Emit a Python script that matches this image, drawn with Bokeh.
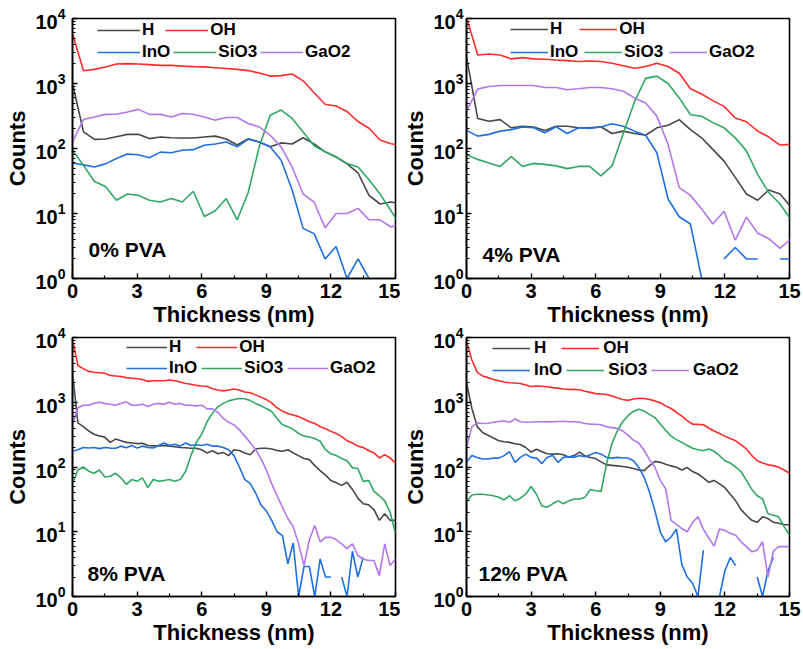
import numpy as np
from bokeh.plotting import figure
from bokeh.layouts import column, row
from bokeh.models import Legend, LegendItem, Label, Range1d, FixedTicker
from bokeh.embed import file_html
from bokeh.resources import INLINE

nan = float("nan")

# ---------------- depth grids (nm) ----------------
x_0pva = [0.00, 0.51, 1.02, 1.53, 2.04, 2.55, 3.06, 3.57, 4.08, 4.59, 5.10,
          5.61, 6.12, 6.63, 7.14, 7.65, 8.16, 8.67, 9.18, 9.69, 10.20, 10.71,
          11.22, 11.73, 12.24, 12.75, 13.26, 13.77, 14.28, 14.79, 15.30]
x_4pva = [0.00, 0.52, 1.04, 1.56, 2.08, 2.60, 3.12, 3.64, 4.16, 4.68, 5.20,
          5.72, 6.24, 6.76, 7.28, 7.80, 8.32, 8.84, 9.36, 9.88, 10.40, 10.92,
          11.44, 11.96, 12.48, 13.00, 13.52, 14.04, 14.56, 15.08]
x_fine = [0.00, 0.25, 0.50, 0.75, 1.00, 1.25, 1.50, 1.75, 2.00, 2.25, 2.50,
          2.75, 3.00, 3.25, 3.50, 3.75, 4.00, 4.25, 4.50, 4.75, 5.00, 5.25,
          5.50, 5.75, 6.00, 6.25, 6.50, 6.75, 7.00, 7.25, 7.50, 7.75, 8.00,
          8.25, 8.50, 8.75, 9.00, 9.25, 9.50, 9.75, 10.00, 10.25, 10.50, 10.75,
          11.00, 11.25, 11.50, 11.75, 12.00, 12.25, 12.50, 12.75, 13.00, 13.25,
          13.50, 13.75, 14.00, 14.25, 14.50, 14.75, 15.00]

# ---------------- 0% PVA ----------------
h_0 = [1000, 180, 138, 140, 152, 165, 165, 142, 150, 146, 145, 145, 150, 155, 140,
       113, 141, 126, 106, 122, 117, 146, 118, 89, 74, 58, 42, 19, 14, 15, 14]
oh_0 = [5900, 1570, 1650, 1800, 2000, 2020, 2000, 1950, 1900, 1900, 1850, 1820,
        1800, 1750, 1700, 1650, 1580, 1450, 1300, 1320, 1400, 1100, 720, 480, 450,
        370, 260, 205, 135, 118, 112]
ino_0 = [60, 56, 52, 58, 70, 82, 80, 72, 88, 86, 94, 96, 112, 117, 126, 106, 139,
         126, 106, 66, 23, 5.9, 4.9, 2.0, 3.1, 1.0, 2.0, 1.0, nan, nan, nan]
sio3_0 = [94, 55, 31, 26, 16, 20, 19, 16, 15, 17, 15, 22, 9, 11, 17, 8, 21, 106,
          325, 390, 290, 180, 110, 89, 74, 59, 52, 33, 20, 11, 6]
gao2_0 = [126, 280, 305, 335, 336, 365, 400, 335, 335, 305, 345, 336, 305, 273,
          300, 300, 242, 215, 160, 106, 52, 20, 15, 6, 10, 10, 12, 8, 8, 6.2, 7]

# ---------------- 4% PVA ----------------
h_4 = [2600, 289, 262, 278, 208, 220, 214, 189, 220, 220, 208, 208, 216, 170, 185,
       170, 160, 208, 228, 278, 195, 146, 97, 64, 36, 20, 16, 23, 20, 12.5]
oh_4 = [10500, 2750, 2850, 2750, 2390, 2500, 2390, 2360, 2300, 2250, 2180, 2220,
        2180, 2050, 1880, 1720, 1830, 2050, 1830, 1440, 830, 690, 545, 445, 295,
        258, 185, 150, 113, 116]
ino_4 = [190, 155, 165, 185, 195, 214, 208, 175, 216, 170, 208, 204, 214, 240, 220,
         185, 160, 86, 16.7, 8.9, 6.9, 1.0, nan, 2, 3, 2, 2, nan, 2, 2]
sio3_4 = [80, 68, 60, 53, 75, 53, 59, 57, 54, 49, 53, 53, 38, 54, 170, 520, 1200,
          1300, 1000, 600, 330, 314, 250, 208, 146, 92, 40, 21, 14, 8]
gao2_4 = [374, 820, 900, 930, 930, 930, 930, 870, 870, 800, 830, 870, 870, 830,
          760, 600, 500, 315, 116, 25, 19, 11.7, 6.9, 10.8, 3.9, 8.8, 5.0, 4.1,
          2.9, 4.1]

# ---------------- 8% PVA ----------------
h_8 = [2800, 480, 420, 360, 320, 300, 290, 240, 270, 255, 240, 235, 230, 232, 215,
       212, 212, 215, 210, 205, 200, 198, 195, 195, 185, 165, 178, 160, 168, 150,
       185, 180, 165, 155, 190, 195, 195, 190, 180, 175, 185, 165, 150, 135, 130,
       105, 88, 75, 62, 57, 52, 58, 45, 33, 27, 26, 22, 15, 19, 15, 15]
oh_8 = [9500, 3690, 3300, 3000, 2900, 2850, 2800, 2600, 2550, 2500, 2400, 2350,
        2300, 2250, 2100, 2150, 2150, 2150, 2200, 2150, 2050, 1950, 1900, 1820,
        1780, 1750, 1620, 1550, 1500, 1550, 1600, 1550, 1440, 1400, 1300, 1200,
        1100, 980, 820, 730, 670, 635, 600, 550, 500, 470, 420, 390, 355, 330, 295,
        255, 235, 210, 200, 180, 165, 138, 155, 138, 115]
ino_8 = [175, 185, 200, 196, 200, 192, 200, 196, 195, 210, 198, 215, 196, 210, 200,
         196, 215, 235, 215, 225, 210, 235, 215, 220, 215, 225, 210, 210, 200, 185,
         150, 100, 64, 56, 40, 26, 21, 15, 10, 8.7, 3.2, 6.7, 1.0, 2.9, 2.9, 1.0,
         3.8, 2.0, 2.0, nan, 2.0, 1.0, 5.0, 2.0, 4.0, nan, nan, nan, nan, nan, nan]
sio3_8 = [55, 90, 100, 86, 80, 90, 70, 72, 80, 68, 54, 64, 60, 68, 48, 64, 60, 62,
          64, 60, 64, 85, 150, 240, 320, 500, 680, 850, 960, 1050, 1100, 1140, 1130,
          1060, 960, 880, 800, 720, 560, 450, 420, 380, 330, 300, 290, 275, 250,
          185, 160, 150, 135, 125, 97, 95, 60, 62, 42, 36, 30, 20, 9.5]
gao2_8 = [450, 820, 900, 900, 960, 1000, 960, 930, 900, 960, 1015, 900, 900, 930,
          860, 930, 960, 930, 1000, 930, 960, 900, 900, 880, 900, 790, 790, 700,
          565, 490, 447, 375, 300, 240, 185, 135, 90, 55, 36, 24, 16, 12, 6.5, 3.0,
          7.5, 12.5, 7.0, 8.2, 8.2, 7.5, 6.5, 5.5, 6.5, 4.3, 3.8, 3.6, 3.6, 2.1,
          6.5, 3.0, 3.8]

# ---------------- 12% PVA ----------------
h_12 = [2000, 800, 420, 340, 310, 280, 255, 245, 240, 228, 222, 200, 170, 188, 172,
        160, 158, 160, 155, 142, 150, 170, 148, 140, 135, 120, 108, 106, 104, 102,
        99, 95, 90, 88, 105, 122, 118, 110, 104, 99, 90, 98, 85, 78, 68, 58, 62,
        55, 48, 38, 30, 22, 18, 15, 14, 17, 16, 14, 13.5, 12.8, 12.8]
oh_12 = [8700, 4500, 2900, 2550, 2400, 2250, 2150, 2050, 2000, 1980, 1950, 1850,
         1750, 1780, 1770, 1740, 1680, 1650, 1600, 1580, 1580, 1560, 1480, 1420,
         1360, 1340, 1320, 1250, 1170, 1100, 1070, 1120, 1150, 1140, 1100, 1050,
         980, 880, 800, 700, 610, 520, 457, 455, 450, 400, 360, 330, 300, 275, 254,
         220, 190, 150, 125, 115, 108, 105, 99, 90, 80]
ino_12 = [118, 150, 140, 133, 133, 137, 137, 150, 172, 118, 141, 158, 141, 137, 113,
          141, 150, 118, 141, 144, 141, 150, 144, 155, 168, 158, 141, 137, 141, 138,
          138, 125, 99, 69, 41, 21, 9.9, 7.0, 8.3, 11, 3.1, 2.0, 1.6, 1.0, 5.2, nan,
          nan, 1.0, 2.5, 4.0, 3.0, nan, nan, nan, 2.0, 1.0, 2.5, 4.0, nan, nan, nan]
sio3_12 = [29, 37, 38, 38, 37, 36, 34, 31, 36, 30, 33, 38, 50, 38, 25, 24, 27, 30,
           27, 30, 32, 32, 34, 45, 43, 42, 110, 230, 360, 500, 620, 720, 780, 730,
           650, 580, 460, 370, 300, 265, 240, 215, 195, 185, 178, 190, 175, 150,
           125, 115, 100, 85, 62, 45, 36, 32, 19, 18, 17, 12, 9]
gao2_12 = [200, 420, 480, 470, 475, 490, 505, 514, 490, 550, 500, 490, 495, 500,
           500, 498, 500, 505, 510, 500, 505, 490, 470, 460, 457, 450, 420, 405, 395,
           360, 310, 260, 235, 180, 130, 99, 62, 46, 15, 13, 11.2, 10, 14, 17, 11,
           8, 6, 11, 10.5, 9.5, 8.8, 7, 5.9, 4.9, 5.2, 7, 2.0, 5.0, 5.9, 5.9, 5.9]

species = ["H", "OH", "InO", "SiO3", "GaO2"]
colors = {"H": "#474747", "OH": "#ff2b2b", "InO": "#1f6fe0",
          "SiO3": "#2fa862", "GaO2": "#b277ea"}

FONT = "Liberation Sans"


def make_panel(x, data, tag, width, height, borders, leg, tag_pos, y_standoff,
               transparent=False):
    left, right, top, bottom = borders
    p = figure(width=width, height=height, y_axis_type="log",
               x_range=Range1d(0, 15), y_range=Range1d(1, 1e4),
               output_backend="svg", toolbar_location=None,
               min_border_left=left, min_border_right=right,
               min_border_top=top, min_border_bottom=bottom,
               background_fill_color="white", border_fill_color="white")
    if transparent:
        p.border_fill_alpha = 0.0
    p.xgrid.visible = False
    p.ygrid.visible = False
    p.outline_line_color = "black"
    p.outline_line_width = 1.6
    p.outline_line_alpha = 1.0

    xs = np.array(x, dtype=float)
    rends = {}
    for name in species:
        ys = np.array(data[name], dtype=float)
        rends[name] = p.line(xs, ys, line_color=colors[name], line_width=1.6)

    p.xaxis.ticker = FixedTicker(ticks=[0, 3, 6, 9, 12, 15],
                                 minor_ticks=[1.5, 4.5, 7.5, 10.5, 13.5])
    minor_y = [m * 10 ** d for d in range(4) for m in range(2, 10)]
    p.yaxis.ticker = FixedTicker(ticks=[1, 10, 100, 1000, 10000], minor_ticks=minor_y)
    p.xaxis.axis_label = "Thickness (nm)"
    p.yaxis.axis_label = "Counts"

    for ax in (p.xaxis[0], p.yaxis[0]):
        ax.major_tick_in = 5
        ax.major_tick_out = 0
        ax.minor_tick_in = 3
        ax.minor_tick_out = 0
        ax.axis_line_width = 1.6
        ax.axis_line_color = "black"
        ax.major_tick_line_width = 1.4
        ax.minor_tick_line_width = 1.2
        ax.major_label_text_font = FONT
        ax.major_label_text_font_style = "bold"
        ax.major_label_text_font_size = "20px"
        ax.major_label_text_color = "black"
        ax.axis_label_text_font = FONT
        ax.axis_label_text_font_style = "bold"
        ax.axis_label_text_font_size = "22px"
        ax.axis_label_text_color = "black"
    p.xaxis.major_label_standoff = 5
    p.xaxis.axis_label_standoff = 1
    p.yaxis.major_label_standoff = y_standoff
    p.yaxis.axis_label_standoff = 2

    gx, gw, std, sp1, sp2, y1, y2 = leg
    rows = [(["H", "OH"], sp1, y1), (["InO", "SiO3", "GaO2"], sp2, y2)]
    for names, sp, yy in rows:
        lg = Legend(items=[LegendItem(label=n, renderers=[rends[n]]) for n in names],
                    location=(gx, yy), orientation="horizontal",
                    glyph_width=gw, glyph_height=20, label_height=20, label_width=1,
                    label_standoff=std, spacing=sp, padding=0, margin=0,
                    border_line_alpha=0, background_fill_alpha=0,
                    label_text_font=FONT, label_text_font_style="bold",
                    label_text_font_size="17px", label_text_color="black")
        p.add_layout(lg)

    p.add_layout(Label(x=tag_pos[0], y=tag_pos[1], x_units="screen", y_units="screen",
                       text=tag, text_font=FONT, text_font_style="bold",
                       text_font_size="21px", text_color="black",
                       text_baseline="alphabetic"))
    return p


p1 = make_panel(x_0pva, {"H": h_0, "OH": oh_0, "InO": ino_0, "SiO3": sio3_0, "GaO2": gao2_0},
                "0% PVA", 400, 331, (72, 5, 18, 53),
                (25, 43, 2, 11, 3, 238, 216), (16, 29), 7)
p2 = make_panel(x_4pva, {"H": h_4, "OH": oh_4, "InO": ino_4, "SiO3": sio3_4, "GaO2": gao2_4},
                "4% PVA", 403, 331, (66, 14, 18, 53),
                (44, 38, 2, 17, 6, 239, 216), (16, 24), 3)
p3 = make_panel(x_fine, {"H": h_8, "OH": oh_8, "InO": ino_8, "SiO3": sio3_8, "GaO2": gao2_8},
                "8% PVA", 400, 329, (72, 5, 17, 52),
                (54, 41, 2, 15, 4, 239, 218), (15, 23), 7, transparent=True)
p4 = make_panel(x_fine, {"H": h_12, "OH": oh_12, "InO": ino_12, "SiO3": sio3_12, "GaO2": gao2_12},
                "12% PVA", 403, 329, (66, 14, 16, 53),
                (26, 38, 4, 15, 4, 238, 216), (12, 23), 3, transparent=True)

# the lower row tucks up under the upper row's axis titles
layout = column(row(p1, p2), row(p3, p4, margin=(-11, 0, 0, 0)))
open("out.html", "w").write(file_html(layout, INLINE))
